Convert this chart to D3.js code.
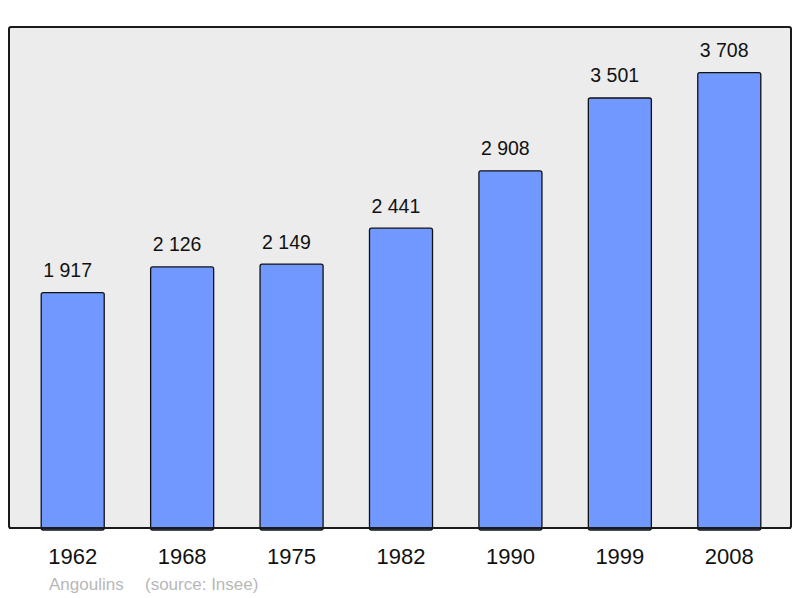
<!DOCTYPE html>
<html>
<head>
<meta charset="utf-8">
<script src="https://cdn.jsdelivr.net/npm/d3@7"></script>
<style>
  body { margin: 0; background: #fff; }
  text { font-family: "Liberation Sans", Arial, sans-serif; }
</style>
</head>
<body>
<div id="chart"></div>
<script>
// Chart data
const years = ["1962", "1968", "1975", "1982", "1990", "1999", "2008"];
const population = [1917, 2126, 2149, 2441, 2908, 3501, 3708];
const commune = "Angoulins";
const source = "(source: Insee)";

const width = 800;
const height = 598;
const plot = { left: 9, top: 27, right: 791, bottom: 528 };

const svg = d3.select("#chart")
  .append("svg")
  .attr("width", width)
  .attr("height", height);

// Background panel
svg.append("rect")
  .attr("x", plot.left)
  .attr("y", plot.top)
  .attr("width", plot.right - plot.left)
  .attr("height", plot.bottom - plot.top)
  .attr("rx", 2)
  .attr("fill", "#ececec")
  .attr("stroke", "#1a1a1a")
  .attr("stroke-width", 2);

// Scales
const xScale = d3.scaleBand()
  .domain(years)
  .range([18, 784])
  .paddingInner(0.424)
  .paddingOuter(0.212);

const yScale = d3.scaleLinear()
  .domain([0, 4079])
  .range([plot.bottom, plot.top]);

const fmt = (v) => d3.format(",")(v).replace(/,/g, " ");

// Bars
svg.selectAll(".bar")
  .data(population)
  .enter()
  .append("rect")
  .attr("class", "bar")
  .attr("x", (d, i) => xScale(years[i]))
  .attr("y", (d) => yScale(d))
  .attr("width", xScale.bandwidth())
  .attr("height", (d) => plot.bottom - yScale(d) + 2)
  .attr("rx", 2)
  .attr("fill", "#7098ff")
  .attr("stroke", "#111")
  .attr("stroke-width", 1.3);

// Redraw bottom frame line over bar bottoms
svg.append("line")
  .attr("x1", plot.left)
  .attr("x2", plot.right)
  .attr("y1", plot.bottom)
  .attr("y2", plot.bottom)
  .attr("stroke", "#1a1a1a")
  .attr("stroke-width", 2);

// Value labels
svg.selectAll(".value")
  .data(population)
  .enter()
  .append("text")
  .attr("class", "value")
  .attr("x", (d, i) => xScale(years[i]) + 2)
  .attr("y", (d) => yScale(d) - 15.5)
  .attr("font-size", 19.5)
  .attr("fill", "#111")
  .text((d) => fmt(d));

// Year labels
svg.selectAll(".year")
  .data(years)
  .enter()
  .append("text")
  .attr("class", "year")
  .attr("x", (d) => xScale(d) + xScale.bandwidth() / 2)
  .attr("y", 564)
  .attr("text-anchor", "middle")
  .attr("font-size", 22)
  .attr("fill", "#111")
  .text((d) => d);

// Source note
svg.append("text")
  .attr("x", 49)
  .attr("y", 590)
  .attr("font-size", 17)
  .attr("fill", "#b8b8b8")
  .text(commune);

svg.append("text")
  .attr("x", 145)
  .attr("y", 590)
  .attr("font-size", 17)
  .attr("fill", "#b8b8b8")
  .text(source);
</script>
</body>
</html>
